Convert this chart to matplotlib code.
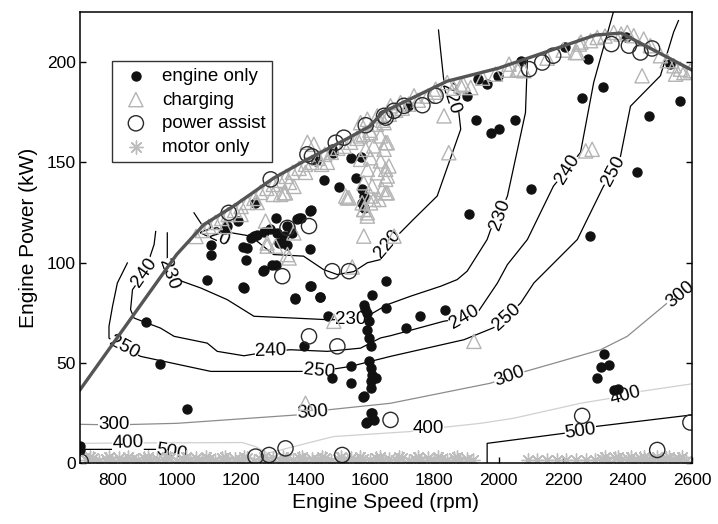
import matplotlib
matplotlib.use('Agg')
import matplotlib.pyplot as plt
import numpy as np

plt.rcParams['font.family'] = ['Liberation Sans', 'DejaVu Sans']

# ---- maximum power curve (rpm, kW)
max_rpm = [700, 1000, 1085, 1180, 1300, 1400, 1520, 1600, 1640, 1840, 2000, 2300, 2380, 2600]
max_kw = [36.5, 104, 119, 128.5, 142, 151, 161, 168, 175, 190.5, 197, 213.5, 214.5, 196]

# ---- BSFC contour lines (g/kWh), traced as polylines
c220_rpm = [1054, 1084, 1118, 1168, 1230, 1301, 1394, 1456, 1499, 1550, 1592, 1633, 1655, 1695,
            1735, 1809, 1882, 1876, 1849, 1829, 1819, 1813]
c220_kw = [124.8, 117.5, 113.5, 114.9, 113.2, 104, 103.2, 96.5, 94, 95.5, 99.9, 101.5, 109, 115,
           121.5, 133.2, 166.5, 175, 182, 191.5, 206.5, 216]
c230_rpm = [971, 971, 975, 1002, 1075, 1157, 1240, 1364, 1468, 1540, 1592, 1654, 1726, 1820,
            1871, 1902, 1964, 1975, 2003, 2027, 2083, 2089]
c230_kw = [114.8, 101.5, 94, 91.5, 87.3, 81.5, 73.2, 72.3, 71.5, 71.5, 73.2, 79, 83.2, 88.2,
           91.5, 95.7, 111.5, 116.5, 124, 133.2, 174.8, 201.5]
c240_rpm = [935, 930, 901, 863, 857, 868, 909, 950, 992, 1095, 1126, 1209, 1292, 1354, 1468,
            1571, 1633, 1664, 1829, 1894, 1937, 1996, 2027, 2089, 2170, 2213, 2254, 2295, 2356]
c240_kw = [115.5, 109, 95, 86.5, 76.5, 72.3, 69.8, 67.3, 63.2, 59.8, 55.7, 53.5, 55.7, 56.5, 55.7,
           57.3, 62.4, 63.5, 70.7, 72.5, 75.7, 89.8, 99, 111.5, 138.2, 146.5, 155, 190, 225]
c250_rpm = [847, 816, 801, 790, 790, 836, 888, 1106, 1394, 1441, 1540, 1664, 1892, 1984, 2024,
            2068, 2109, 2244, 2325, 2356, 2378, 2409, 2502, 2543, 2558]
c250_kw = [99.8, 89.8, 78.2, 68.2, 62.3, 57.5, 53.2, 45.7, 45.7, 45.7, 48.2, 53.2, 61.5, 67.5, 73,
           79.8, 89.8, 111.5, 138, 145.5, 153, 178, 193.2, 215, 220.7]
c300_rpm = [700, 805, 1002, 1375, 1422, 1468, 1664, 1974, 2033, 2083, 2192, 2316, 2399, 2523, 2564, 2600]
c300_kw = [19.3, 19, 19.8, 24, 25, 26.5, 29.8, 39.8, 43, 45.7, 50.7, 56.5, 63.2, 79.8, 84, 88.5]
c400_rpm = [700, 848, 1204, 1245, 1282, 1364, 1487, 1726, 1782, 1944, 2046, 2254, 2393, 2440, 2600]
c400_kw = [9.8, 10, 10.2, 8.2, 4.8, 8.2, 13.2, 15.7, 17, 19.8, 22.3, 29.8, 33.5, 35.7, 39.5]
c500a_rpm = [700, 935, 985, 1023, 1023]
c500a_kw = [6.8, 6.8, 5.5, 5.6, 0]
c500b_rpm = [1964, 1964, 2202, 2254, 2300, 2600]
c500b_kw = [0, 9.8, 14.8, 16, 18.2, 24]

# contour labels: text, rpm, kW, rotation
lab_text = ['220', '220', '220', '230', '230', '230', '240', '240', '240', '240',
            '250', '250', '250', '250', '300', '300', '300', '300', '400', '400', '400', '500', '500']
lab_rpm = [1118, 1655, 1849, 975, 1540, 2003, 901, 1292, 1894, 2213,
           836, 1441, 2024, 2356, 805, 1422, 2033, 2564, 848, 1782, 2393, 985, 2254]
lab_kw = [113.5, 109, 182, 94, 71.5, 124, 95, 55.7, 72.5, 146.5,
          57.5, 45.7, 73, 145.5, 19, 25, 43, 84, 10, 17, 33.5, 5.5, 16]
lab_rot = [-25, 50, -72, -70, 0, 70, 55, 2, 30, 58,
           -28, -6, 42, 62, 0, 4, 20, 40, 2, 0, 15, -10, 8]

# ---- operating points
eng_rpm = [700, 700, 1033, 904, 948, 1106, 1095, 1207, 1214, 1207, 1268, 1307, 1323, 1414, 1414,
           1369, 1444, 1470, 1395, 1483, 1540, 1540, 1580, 1607, 1649, 1649, 1602, 1587, 1592, 1612,
           1582, 1591, 1597, 1591, 1597, 1602, 1585, 1597, 1602, 1608, 1618, 1602, 1602, 1581, 1607,
           1711, 1757, 1832, 2328, 2318, 2342, 2306, 2357, 2370,
           1928, 1975, 2000, 2050, 1907, 2099, 2282, 2257, 2323, 2278, 2466, 2564, 2428, 1900, 1964,
           1937, 1999, 2068, 2205, 1719, 2533, 2394,
           1540, 1571, 1457, 1504, 1556, 1576, 1581, 1576, 1581, 1416, 1385, 1434, 1483, 1486,
           1243, 1190, 1149, 1106, 1217, 1240, 1307, 1380, 1359, 1344, 1318, 1333, 1290, 1270,
           1157, 1230, 1251, 1271, 1313, 1297, 1344, 1375, 1414, 1209, 1416, 1445, 1369]
eng_kw = [8.5, 6.5, 26.8, 70.2, 49.5, 104, 91.2, 107.8, 101.5, 87.7, 95.7, 98.7, 109.8, 106.8, 88.5,
          81.8, 82.7, 73.2, 58.2, 42.3, 48.2, 39.8, 32.8, 84, 90.7, 77.3, 24.8, 20.2, 20.7, 21.5,
          79, 74.8, 70.7, 66.5, 62.3, 58.2, 77, 50.7, 47.3, 44, 42.3, 40.7, 37.3, 33.2, 24.8,
          67.3, 73.2, 76.2, 54.5, 47.8, 48.7, 42.3, 36.5, 37,
          171.2, 164.8, 166.8, 171.2, 124.3, 136.5, 113.2, 182.2, 187.8, 201.8, 173.2, 180.7, 145.3, 183.2, 189.3,
          191.5, 193.2, 200.7, 207.3, 178.2, 199, 212.3,
          152.3, 152.8, 141.2, 137.8, 142, 136.5, 133.2, 129.8, 127.3, 126, 122.3, 150.7, 156.5, 154.5,
          129.8, 120.7, 116.8, 109, 107.3, 113.2, 122.3, 122.3, 114.8, 109, 109.8, 113, 116.5, 115,
          118.2, 112.3, 113.5, 96.2, 114.8, 99, 118.2, 121.5, 125.7, 87.3, 88.2, 82.8, 82.3]

chg_rpm = [1845, 2270, 2290, 2445, 2238, 2549, 2575, 1649, 1649, 1654, 1649, 1830, 1675, 1923, 1400,
           1488, 1545, 1281, 1344, 1276, 1338, 1281, 1307, 1349, 1364, 1333, 1525, 1576, 1592, 1581,
           1530, 1581, 1602, 1612, 1406, 1426,
           1571, 1592, 1623, 1644, 1571, 1602, 1633, 1654, 1587, 1612, 1644, 1571, 1602, 1633, 1659,
           1592, 1623, 1649, 1581, 1607, 1638, 1602, 1628, 1654, 1535, 1581, 1592,
           1060, 1080, 1100, 1120, 1140, 1160, 1180, 1200, 1220, 1240, 1260, 1280, 1300, 1320, 1340,
           1360, 1380, 1400, 1420, 1440, 1460, 1480, 1500, 1520, 1540, 1560, 1580, 1600, 1620, 1640,
           1660, 1680, 1700, 1720, 1750, 1780, 1800, 1860, 1890, 1950, 1990, 2030, 2060, 2150, 2200,
           2250, 2285, 2306, 2330, 2357, 2380, 2399, 2419, 2450, 2471, 2502, 2523, 2544, 2564, 2595,
           2255, 2244, 2032, 2058, 2078, 1840, 1882, 1913, 1804, 1737, 1695, 1664,
           1150, 1200, 1250, 1300, 1350, 1400, 1450, 1323, 1364, 1468]
chg_kw = [154.8, 155.7, 156.5, 193.2, 204.8, 194, 194.8, 159.8, 146.5, 143.2, 134.8, 173.2, 113.2, 60.7, 29.8,
          70.7, 97.8, 108.2, 104, 120.7, 134.8, 109.8, 108.2, 102.3, 114.8, 134.8, 133.2, 129.8, 124.8, 113.2,
          132.3, 126.5, 129.8, 131.5, 160, 159,
          169.8, 171.5, 173.2, 169.8, 163.2, 164.8, 163.2, 159.8, 156.5, 158.2, 156.5, 151.5, 152.3, 150.7, 148.2,
          146.5, 144.8, 141.5, 139.8, 138.2, 136.5, 133.2, 131.5, 134.8, 132.3, 126.5, 123.2,
          113, 116, 118, 120, 122, 124, 126, 128, 130, 132, 135, 137, 139, 141, 143,
          145, 147, 149, 150, 152, 154, 155, 157, 158, 160, 162, 164, 166, 169, 171,
          174, 176, 177, 179, 181, 183, 185, 187, 189, 192, 194, 196, 196, 202, 206,
          209, 210.7, 212.3, 213, 214.8, 214, 214.8, 213.2, 211.5, 208.2, 203.2, 200.7, 198.2, 196.5, 195.7,
          210, 204.8, 199, 196.5, 195.7, 189.8, 188.2, 187.3, 186.5, 183.2, 179.8, 178.2,
          118, 124, 130, 134, 140, 145, 149, 134, 138, 150]

pa_rpm = [1162, 1292, 1406, 1420, 1494, 1519, 1587, 1649, 1644, 1675, 1706, 1763, 1804, 2094, 2135,
          2169, 2350, 2404, 2440, 2476, 1344, 1411, 1328, 1483, 1535, 1411, 1499, 1664, 1338, 1287,
          1245, 1514, 702, 2259, 2492, 2595]
pa_kw = [124.8, 141.5, 154, 153, 159.8, 162.3, 168.5, 172.3, 173.2, 175.7, 178.2, 178.5, 183.2, 196.5, 199.8,
         203.2, 209, 208.2, 204.8, 206.8, 117.3, 118.2, 93.2, 95.7, 95.7, 63.2, 58.2, 21.5, 7.3, 4,
         3.2, 4, 0.7, 23.5, 6.5, 20.2]

mot_rpm = [720, 740, 760, 780, 800, 820, 840, 860, 880, 900, 920, 940, 960, 980, 1000, 1020, 1040,
           1060, 1080, 1100, 1120, 1140, 1160, 1180, 1200, 1220, 1240, 1260, 1280, 1300, 1320, 1340,
           1360, 1380, 1400, 1420, 1440, 1460, 1480, 1500, 1520, 1540, 1560, 1580, 1600, 1620, 1640,
           1660, 1680, 1700, 1720, 1740, 1760, 1780, 1800, 1820, 1840, 1860, 1880, 1900, 1920,
           730, 790, 850, 910, 970, 1030, 1090, 1150, 1210, 1270, 1330, 1390, 1450, 1510, 1570,
           1630, 1690, 1750, 1810, 1870,
           2090, 2120, 2150, 2180, 2210, 2240, 2270, 2300, 2320, 2340, 2360, 2380, 2400, 2420, 2440,
           2460, 2480, 2500, 2520, 2540, 2560, 2580, 2330, 2370, 2410, 2450, 2490, 2530, 2570]
mot_kw = [1.5, 2.5, 1, 2, 1.5, 2.5, 1, 2, 1.5, 2.5, 1, 2, 1.5, 2.5, 1, 2, 1.5,
          2.5, 1, 2, 1.5, 2.5, 1, 2, 1.5, 2.5, 1, 2, 1.5, 2.5, 1, 2,
          1.5, 2.5, 1, 2, 1.5, 2.5, 1, 2, 1.5, 2.5, 1, 2, 1.5, 2.5, 1,
          2, 1.5, 2.5, 1, 2, 1.5, 2.5, 1, 2, 1.5, 2.5, 1, 2, 1.5,
          3, 3, 3, 3, 3, 3, 3, 3, 3, 3, 3, 3, 3, 3, 3,
          3, 3, 3, 3, 3,
          1.5, 1.5, 1.5, 1.5, 1.5, 1.5, 1.5, 1.5, 2, 1, 2.5, 1.5, 2, 1, 2.5,
          1.5, 2, 1, 2.5, 1.5, 2, 1, 3, 3, 3, 3, 3, 3, 3]

fig = plt.figure(figsize=(7.18, 5.24), dpi=100)
ax = fig.add_axes([80 / 718, 61 / 524, 612 / 718, 451 / 524])

# contours
ax.plot(c220_rpm, c220_kw, color='black', lw=0.9, zorder=1)
ax.plot(c230_rpm, c230_kw, color='black', lw=0.9, zorder=1)
ax.plot(c240_rpm, c240_kw, color='black', lw=0.9, zorder=1)
ax.plot(c250_rpm, c250_kw, color='black', lw=0.9, zorder=1)
ax.plot(c300_rpm, c300_kw, color='#8c8c8c', lw=0.9, zorder=1)
ax.plot(c400_rpm, c400_kw, color='#d0d0d0', lw=0.9, zorder=1)
ax.plot(c500a_rpm, c500a_kw, color='black', lw=0.9, zorder=1)
ax.plot(c500b_rpm, c500b_kw, color='black', lw=0.9, zorder=1)

for t, x, y, r in zip(lab_text, lab_rpm, lab_kw, lab_rot):
    ax.text(x, y, t, rotation=r, rotation_mode='anchor', ha='center', va='center',
            fontsize=13.5, zorder=2,
            bbox=dict(facecolor='white', edgecolor='none', pad=0.2))

# operating points
ax.scatter(eng_rpm, eng_kw, s=42, color='#111111', zorder=3, label='engine only')
ax.scatter(chg_rpm, chg_kw, s=105, marker='^', facecolors='none', edgecolors='#b4b4b4',
           linewidths=1.0, zorder=4, label='charging')
ax.scatter(pa_rpm, pa_kw, s=120, marker='o', facecolors='none', edgecolors='#2a2a2a',
           linewidths=1.0, zorder=5, label='power assist')
ax.scatter(mot_rpm, mot_kw, s=90, marker=(8, 2, 0), color='#bdbdbd', linewidths=1.0,
           zorder=4, label='motor only')

ax.plot(max_rpm, max_kw, color='#555555', lw=2.4, zorder=6)

ax.set_xlim(700, 2600)
ax.set_ylim(0, 225)
ax.set_xticks([800, 1000, 1200, 1400, 1600, 1800, 2000, 2200, 2400, 2600])
ax.set_yticks([0, 50, 100, 150, 200])
ax.tick_params(direction='in', length=4, width=1, labelsize=12.5, right=True)
ax.tick_params(axis='x', pad=7)
ax.tick_params(axis='y', pad=3)
for s in ax.spines.values():
    s.set_linewidth(1.1)
    s.set_zorder(7)

ax.set_xlabel('Engine Speed (rpm)', fontsize=15, labelpad=4)
ax.set_ylabel('Engine Power (kW)', fontsize=15, labelpad=6)

leg = ax.legend(loc='upper left', bbox_to_anchor=(0.053, 0.891), borderaxespad=0,
                fontsize=13.5, frameon=True, fancybox=False, edgecolor='black',
                handletextpad=0.5, labelspacing=0.35, borderpad=0.35, handlelength=1.8)
leg.get_frame().set_linewidth(1.0)
leg.set_zorder(8)

fig.savefig('out.png', dpi=100)
